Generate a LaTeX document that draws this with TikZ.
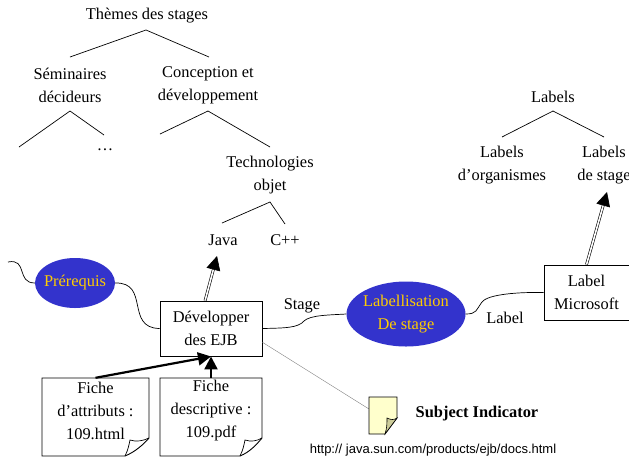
\documentclass[tikz,border=0pt]{standalone}
\usepackage{fontspec}
\setmainfont{Liberation Serif}
\newfontfamily\urlfont{Liberation Sans}
\usetikzlibrary{arrows.meta,shapes.geometric}
\definecolor{bleu}{HTML}{3333CC}
\definecolor{jaune}{HTML}{FFCC00}
\definecolor{papier}{HTML}{FFFFCC}
\definecolor{pli}{HTML}{CCCC99}
\tikzset{
	txt/.style={align=center,inner sep=4pt,font=\fontsize{16.4}{23}\selectfont},
	topic/.style={txt,draw,line width=0.9pt,fill=white,minimum width=102pt,minimum height=55pt},
	assoc/.style={ellipse,fill=bleu,inner sep=0pt},
	vide/.style={inner sep=0pt},
	branche/.style={line width=0.7pt},
	lien/.style={line width=0.7pt},
	occ/.style={-{Triangle[length=13pt,width=13pt]},line width=2.2pt},
	dbl/.style={-{Triangle[length=14pt,width=14pt]},double,double distance=1.6pt,line width=0.6pt}
}
\begin{document}
\begin{tikzpicture}[x=1pt,y=-1pt]
	\useasboundingbox (0,0) rectangle (629,459);

	% arbre des stages
	\node[txt] (themes) at (147,16) {Thèmes des stages};
	\node[txt] (seminaires) at (70,85) {Séminaires\\décideurs};
	\node[txt] (conception) at (208,85) {Conception et\\développement};
	\node[txt] (techno) at (270,175) {Technologies\\objet};
	\node[txt] (java) at (223,240) {Java};
	\node[txt] (cpp) at (285,240) {C++};
	\node[txt] (points) at (105,150) {\dots};
	\coordinate (semgauche) at (19,147);
	\coordinate (conceptgauche) at (160,134);

	\draw[branche] (209,57) -- (146,30) -- (70,57);
	\draw[branche] (semgauche) -- (70,111) -- (104,135);
	\draw[branche] (conceptgauche) -- (208,111) -- (270,147);
	\draw[branche] (222,223) -- (270,202) -- (285,224);

	% arbre des labels
	\node[txt] (labels) at (553,97) {Labels};
	\node[txt] (organismes) at (502,165) {Labels\\d’organismes};
	\node[txt] (destage) at (604,165) {Labels\\de stage};
	\draw[branche] (502,137) -- (553,111) -- (604,137);

	% association
	\coordinate (entree) at (8,262);
	\coordinate (stagepli) at (304,321);
	\coordinate (labelpli) at (482,302);
	\node[topic] (dev) at (211,328.5) {Développer\\des EJB};
	\node[topic,minimum width=85pt] (micro) at (586.5,292.5) {Label\\Microsoft};
	\node[assoc,minimum width=80pt,minimum height=50pt] (prereq) at (75,283) {};
	\node[txt,text=jaune] (prereqtxt) at (75,283) {Prérequis};
	\node[assoc,minimum width=119pt,minimum height=65pt] (labellisation) at (406,314) {};
	\node[txt,text=jaune] (labellisationtxt) at (406,314) {Labellisation\\De stage};
	\node[txt] (stage) at (302,306) {Stage};
	\node[txt] (label) at (505,318) {Label};

	\draw[lien] (entree) .. controls (28,258) and (16,283) .. (prereq.west);
	\draw[lien] (prereq.east) .. controls (150,282) and (125,328) .. (dev.west);
	\draw[lien] (dev.east) .. controls (285,328) and (298,328) .. (stagepli) .. controls (310,315) and (330,315) .. (labellisation.west);
	\draw[lien] (labellisation.east) .. controls (477,314) and (476,310) .. (labelpli) .. controls (488,294) and (520,292) .. (micro.west);

	\draw[dbl] (dev.102) -- (217,256);
	\draw[dbl] (micro.north) -- (607,192);

	% fiches
	\draw[line width=0.9pt] (42,378) -- (149,378) -- (149,438) .. controls (144,444) and (135,452) .. (125,456) -- (42,456) -- cycle;
	\draw[line width=0.7pt] (125,456) .. controls (128,450) and (129,445) .. (130,440) .. controls (136,442) and (143,441) .. (149,438);
	\draw[line width=0.9pt] (160,378) -- (262,378) -- (262,438) .. controls (257,444) and (250,452) .. (240,456) -- (160,456) -- cycle;
	\draw[line width=0.7pt] (240,456) .. controls (243,450) and (244,445) .. (245,440) .. controls (251,442) and (257,441) .. (262,438);
	\node[vide,minimum width=107pt,minimum height=78pt] (attr) at (95.5,417) {};
	\node[vide,minimum width=102pt,minimum height=78pt] (descr) at (211,417) {};
	\node[txt] (attrtxt) at (95.5,411) {Fiche\\d’attributs :\\109.html};
	\node[txt] (descrtxt) at (211,411) {Fiche\\descriptive :\\109.pdf};
	\draw[occ] (attr.north) -- (dev.south);
	\draw[occ] (descr.north) -- (dev.south);

	% indicateur
	\node[vide,minimum width=28pt,minimum height=37pt] (note) at (383,415.5) {};
	\draw[gray,line width=0.4pt] (dev.-15) -- (note.155);
	\draw[line width=0.8pt,fill=papier] (369,397) -- (397,397) -- (397,418) -- (385,434) -- (369,434) -- cycle;
	\draw[line width=0.6pt,fill=pli] (385,434) .. controls (387,428) and (387,423) .. (387,418) .. controls (391,420) and (394,420) .. (397,418) -- cycle;
	\node[txt,font=\fontsize{16.4}{23}\selectfont\bfseries] (subject) at (477,414) {Subject Indicator};
	\node[txt,font=\fontsize{13}{16}\urlfont] (url) at (433,450) {http:// java.sun.com/products/ejb/docs.html};
\end{tikzpicture}
\end{document}
